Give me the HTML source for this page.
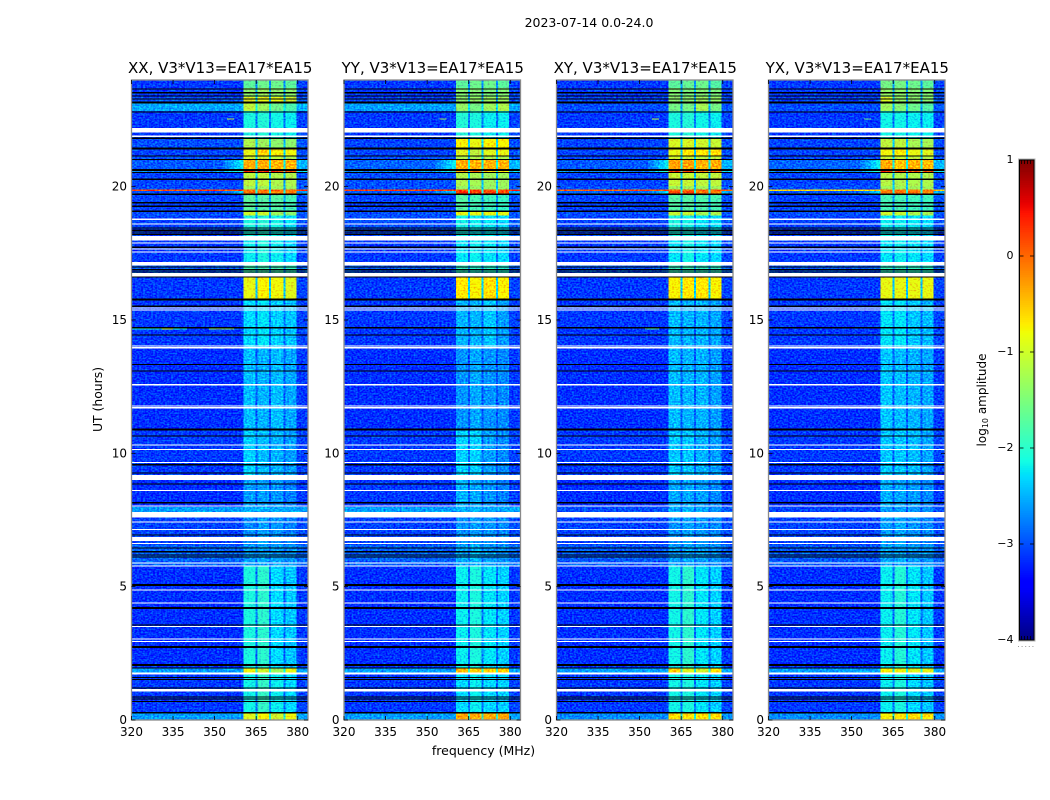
<!DOCTYPE html>
<html>
<head>
<meta charset="utf-8">
<title>2023-07-14 0.0-24.0</title>
<style>
html,body{margin:0;padding:0;background:#fff;}
svg{display:block;font-family:"DejaVu Sans","Liberation Sans",sans-serif;fill:#000;}
</style>
</head>
<body>
<svg id="figure" width="1050" height="800" viewBox="0 0 1050 800" xmlns="http://www.w3.org/2000/svg">
  <defs>
    <filter id="grain1" x="0" y="0" width="100%" height="100%" filterUnits="objectBoundingBox" color-interpolation-filters="sRGB">
      <feTurbulence type="fractalNoise" baseFrequency="0.5 0.62" numOctaves="1" seed="3" result="t"/>
      <feColorMatrix in="t" type="matrix" values="0 0 0 0 0.5  0 1 0 0 0  0 0 0 0 0.5  0 0 0 0 1" result="n"/>
      <feComposite in="SourceGraphic" in2="n" operator="arithmetic" k1="0" k2="1" k3="1.1" k4="-0.55"/>
    </filter>
    <filter id="grain2" x="0" y="0" width="100%" height="100%" filterUnits="objectBoundingBox" color-interpolation-filters="sRGB">
      <feTurbulence type="fractalNoise" baseFrequency="0.5 0.62" numOctaves="1" seed="11" result="t"/>
      <feColorMatrix in="t" type="matrix" values="0 0 0 0 0.5  0 1 0 0 0  0 0 0 0 0.5  0 0 0 0 1" result="n"/>
      <feComposite in="SourceGraphic" in2="n" operator="arithmetic" k1="0" k2="1" k3="1.1" k4="-0.55"/>
    </filter>
    <filter id="grain3" x="0" y="0" width="100%" height="100%" filterUnits="objectBoundingBox" color-interpolation-filters="sRGB">
      <feTurbulence type="fractalNoise" baseFrequency="0.5 0.62" numOctaves="1" seed="23" result="t"/>
      <feColorMatrix in="t" type="matrix" values="0 0 0 0 0.5  0 1 0 0 0  0 0 0 0 0.5  0 0 0 0 1" result="n"/>
      <feComposite in="SourceGraphic" in2="n" operator="arithmetic" k1="0" k2="1" k3="1.1" k4="-0.55"/>
    </filter>
    <filter id="grain4" x="0" y="0" width="100%" height="100%" filterUnits="objectBoundingBox" color-interpolation-filters="sRGB">
      <feTurbulence type="fractalNoise" baseFrequency="0.5 0.62" numOctaves="1" seed="37" result="t"/>
      <feColorMatrix in="t" type="matrix" values="0 0 0 0 0.5  0 1 0 0 0  0 0 0 0 0.5  0 0 0 0 1" result="n"/>
      <feComposite in="SourceGraphic" in2="n" operator="arithmetic" k1="0" k2="1" k3="1.1" k4="-0.55"/>
    </filter>
  </defs>

  <text x="589" y="27" font-size="12.5" text-anchor="middle">2023-07-14 0.0-24.0</text>

  <g id="panel-0" transform="translate(131.5,0)"></g>
  <g id="panel-1" transform="translate(344,0)"></g>
  <g id="panel-2" transform="translate(556.5,0)"></g>
  <g id="panel-3" transform="translate(768.5,0)"></g>

  <text font-size="12.4" text-anchor="middle" transform="translate(102,399.5) rotate(-90)">UT (hours)</text>
  <text x="483.5" y="755" font-size="12.5" text-anchor="middle">frequency (MHz)</text>

  <g id="colorbar"></g>
  <text font-size="12" text-anchor="middle" transform="translate(986,400) rotate(-90)">log<tspan font-size="8" dy="2">10</tspan><tspan dy="-2"> amplitude</tspan></text>
  <line x1="1018" y1="646.5" x2="1035" y2="646.5" stroke="#999" stroke-width="1" stroke-dasharray="1 2.6"/>
</svg>

<script>
const panelTitles = ["XX, V3*V13=EA17*EA15", "YY, V3*V13=EA17*EA15", "XY, V3*V13=EA17*EA15", "YX, V3*V13=EA17*EA15"];
const xTicks = [320, 335, 350, 365, 380];
const yTicks = [0, 5, 10, 15, 20];
const colorTicks = [-4, -3, -2, -1, 0, 1];
const colorTickLabels = ["\u22124", "\u22123", "\u22122", "\u22121", "0", "1"];

/* time-row boundaries in UT hours, from the top of the plot down */
const rowEdgesUT = [24, 23.70, 23.36, 23.13, 22.83, 22.20, 21.82, 21.45, 21.15, 21.00, 20.66, 20.55, 20.02, 19.90, 19.84, 19.72, 19.05, 18.92, 18.15, 17.17, 16.61, 15.79, 13.99, 10.87, 9.19, 7.99, 7.61, 6.56, 5.77, 1.95, 1.76, 0.26, 0];

/* frequency bands in MHz */
const bandStarts = [360.4, 365.4, 370.4, 375.5];
const bandEnds = [364.8, 369.7, 374.8, 379.6];
const freqMin = 320;
const freqMax = 383.7;

/* log10 amplitude per row: [background, band1, band2, band3, band4] */
const levelsXX = [
[-3.1,-1.7,-1.6,-1.6,-1.7],[-3.1,-1.4,-1.3,-1.4,-1.4],[-3.0,-0.9,-0.85,-0.85,-1.0],[-2.55,-1.1,-1.3,-1.6,-1.8],
[-3.1,-2.1,-2.05,-2.15,-2.2],[-3.1,-2.1,-2.05,-2.15,-2.2],[-3.0,-1.2,-1.3,-1.4,-1.4],[-3.05,-0.85,-0.55,-0.75,-0.8],
[-3.0,-1.0,-1.0,-1.1,-1.2],[-2.95,-0.35,-0.35,-0.4,-0.4],[-2.7,0.35,0.35,0.3,0.3],[-3.05,-1.1,-1.1,-1.2,-1.2],
[-3.0,-1.3,-1.3,-1.3,-1.3],[0.2,0.0,0.0,0.0,0.0],[-3.0,-0.1,-0.1,-0.1,-0.1],[-3.05,-1.7,-1.75,-1.75,-1.85],
[-3.0,-1.0,-1.0,-1.3,-1.4],[-3.05,-2.1,-2.05,-2.15,-2.25],[-3.1,-2.2,-2.1,-2.2,-2.3],[-2.95,-1.85,-1.85,-1.85,-1.95],
[-3.1,-0.85,-0.75,-0.8,-0.9],[-3.1,-2.3,-2.25,-2.35,-2.4],[-3.15,-2.45,-2.5,-2.45,-2.55],[-3.1,-2.35,-2.45,-2.5,-2.6],
[-3.15,-2.6,-2.6,-2.65,-2.75],[-2.6,-2.5,-2.5,-2.55,-2.55],[-3.05,-2.7,-2.6,-2.65,-2.75],[-2.9,-2.6,-2.55,-2.6,-2.65],
[-3.15,-2.1,-2.0,-2.3,-2.4],[-2.6,-0.8,-1.0,-1.3,-0.85],[-3.1,-2.15,-1.95,-2.2,-2.3],[-2.6,-0.9,-0.75,-1.0,-0.8]
];
const levelsYY = [
[-3.1,-1.7,-1.6,-1.6,-1.7],[-3.1,-1.45,-1.45,-1.5,-1.45],[-3.05,-1.4,-1.35,-1.3,-1.3],[-2.6,-1.35,-1.55,-1.3,-1.2],
[-3.1,-2.05,-2.1,-2.2,-2.2],[-3.1,-2.05,-2.1,-2.2,-2.2],[-3.05,-0.75,-0.85,-0.75,-0.75],[-3.05,-0.9,-1.1,-0.9,-0.85],
[-3.0,-1.2,-1.2,-1.2,-1.2],[-2.9,-0.35,-0.4,-0.4,-0.4],[-2.7,-0.2,-0.2,-0.6,-0.7],[-3.0,-1.2,-1.25,-1.3,-1.3],
[-3.0,-1.35,-1.35,-1.35,-1.35],[0.25,0.15,0.15,0.15,0.15],[-2.95,0.3,0.25,0.2,0.15],[-3.05,-1.75,-1.85,-1.9,-1.95],
[-3.0,-0.85,-0.85,-0.85,-0.85],[-3.0,-2.15,-2.2,-2.25,-2.3],[-3.1,-2.25,-2.2,-2.25,-2.3],[-2.95,-1.95,-2.0,-2.0,-2.05],
[-3.1,-0.7,-0.75,-0.65,-0.75],[-3.1,-2.5,-2.5,-2.4,-2.6],[-3.15,-2.65,-2.55,-2.65,-2.7],[-3.1,-2.35,-2.35,-2.6,-2.7],
[-3.1,-2.5,-2.55,-2.65,-2.75],[-2.6,-2.5,-2.5,-2.55,-2.55],[-3.05,-2.65,-2.6,-2.65,-2.7],[-2.9,-2.55,-2.5,-2.6,-2.65],
[-3.15,-2.2,-2.1,-2.25,-2.35],[-2.6,-0.45,-0.55,-0.6,-0.55],[-3.1,-2.3,-2.2,-2.3,-2.35],[-2.6,-0.3,-0.35,-0.35,-0.3]
];
const levelsXY = [
[-3.1,-1.7,-1.65,-1.6,-1.75],[-3.1,-1.45,-1.5,-1.45,-1.5],[-3.05,-1.4,-1.4,-1.3,-1.35],[-3.0,-1.55,-1.55,-1.25,-1.55],
[-3.1,-2.1,-2.05,-2.15,-2.2],[-3.1,-2.1,-2.05,-2.15,-2.2],[-3.05,-0.95,-0.95,-1.0,-1.05],[-3.05,-0.85,-0.7,-0.7,-0.65],
[-3.05,-1.0,-1.05,-1.1,-1.1],[-2.95,-0.3,-0.3,-0.4,-0.35],[-2.7,0.2,0.15,-0.05,0.1],[-3.05,-1.05,-1.05,-1.1,-1.1],
[-3.0,-1.3,-1.3,-1.3,-1.3],[0.1,0.05,0.05,0.05,0.05],[-2.9,0.15,0.15,-0.1,-0.1],[-3.05,-1.75,-1.75,-1.8,-1.85],
[-3.0,-1.05,-1.05,-1.25,-1.2],[-3.05,-2.1,-2.15,-2.25,-2.25],[-3.1,-2.25,-2.15,-2.25,-2.3],[-2.95,-1.9,-1.9,-1.95,-1.95],
[-3.1,-0.75,-0.7,-0.7,-0.75],[-3.1,-2.45,-2.5,-2.5,-2.55],[-3.15,-2.45,-2.5,-2.5,-2.6],[-3.1,-2.4,-2.4,-2.5,-2.6],
[-3.15,-2.55,-2.55,-2.6,-2.7],[-3.0,-2.55,-2.5,-2.55,-2.65],[-3.05,-2.65,-2.6,-2.65,-2.7],[-2.95,-2.6,-2.55,-2.6,-2.65],
[-3.15,-2.15,-2.0,-2.25,-2.35],[-2.6,-0.55,-0.9,-1.0,-0.7],[-3.1,-2.15,-2.1,-2.25,-2.35],[-2.7,-0.65,-0.65,-0.65,-0.65]
];
const levelsYX = [
[-3.1,-1.55,-1.55,-1.6,-1.7],[-3.1,-1.35,-1.4,-1.45,-1.45],[-3.05,-0.95,-1.35,-1.4,-1.4],[-3.0,-1.3,-1.45,-1.6,-1.75],
[-3.1,-2.15,-2.15,-2.2,-2.2],[-3.1,-2.15,-2.15,-2.2,-2.2],[-3.05,-1.1,-1.1,-1.25,-1.25],[-3.05,-0.8,-0.75,-0.85,-0.9],
[-3.05,-1.05,-1.05,-1.1,-1.15],[-2.9,-0.35,-0.5,-0.4,-0.45],[-2.7,0.2,0.2,0.1,0.1],[-3.05,-1.15,-1.2,-1.2,-1.2],
[-3.0,-1.3,-1.3,-1.3,-1.3],[-0.55,-0.1,-0.1,-0.1,-0.1],[-2.95,-0.1,-0.1,-0.1,-0.1],[-3.05,-1.85,-1.85,-1.9,-1.9],
[-3.0,-1.0,-1.05,-1.2,-1.25],[-3.05,-2.2,-2.2,-2.25,-2.3],[-3.1,-2.25,-2.2,-2.25,-2.3],[-2.95,-1.95,-1.95,-1.95,-2.0],
[-3.1,-0.85,-0.85,-0.85,-0.85],[-3.1,-2.25,-2.25,-2.4,-2.45],[-3.15,-2.4,-2.45,-2.5,-2.55],[-3.1,-2.4,-2.4,-2.45,-2.55],
[-3.15,-2.5,-2.55,-2.6,-2.7],[-3.05,-2.6,-2.6,-2.65,-2.7],[-3.05,-2.6,-2.55,-2.65,-2.7],[-2.95,-2.55,-2.55,-2.6,-2.65],
[-3.15,-2.2,-2.05,-2.25,-2.4],[-2.6,-0.75,-0.8,-0.9,-0.85],[-3.1,-2.2,-2.1,-2.3,-2.4],[-2.7,-0.75,-0.65,-0.6,-0.7]
];

/* level just beside the bands, for rows where the bright signal leaks outward */
const shoulderLevels = [null,null,null,null,null,null,null,null,null,-2.2,-2.0,null,null,null,-2.3,null,null,null,null,null,null,null,null,null,null,null,null,null,null,null,null,null];

/* isolated interference features: [startMHz, endMHz, UT, level] */
const spikesXX = [[320,340,14.66,-2.1],[331,335,14.66,-1.0],[348,357,14.66,-1.4],[354.5,357,22.54,-1.1]];
const spikesYY = [[354.5,357,22.54,-1.3]];
const spikesXY = [[352,357,14.66,-1.8],[354.5,357,22.54,-1.1]];
const spikesYX = [[354.5,357,22.54,-1.6]];

/* flagged time samples: black = zero amplitude, white = no data */
const blackUT = [23.66,23.52,23.40,23.29,23.15,22.80,21.82,21.43,21.15,21.02,20.62,20.53,20.28,19.72,19.40,19.27,19.08,18.45,18.37,18.30,18.22,17.73,16.99,16.89,16.80,16.61,15.77,15.52,14.71,14.44,13.33,13.09,10.89,10.65,9.57,9.26,8.85,8.15,6.94,6.45,6.31,6.19,6.11,5.06,4.20,3.56,2.74,2.06,1.95,1.59,1.52,1.20,0.87,0.78,0.69,0.27];
const blackHours = [0.05,0.05,0.05,0.05,0.08,0.05,0.05,0.06,0.05,0.05,0.08,0.05,0.06,0.05,0.05,0.05,0.06,0.05,0.05,0.05,0.05,0.06,0.05,0.05,0.05,0.04,0.06,0.05,0.05,0.05,0.05,0.05,0.08,0.05,0.05,0.05,0.05,0.05,0.05,0.05,0.05,0.05,0.05,0.08,0.08,0.05,0.08,0.08,0.04,0.04,0.04,0.05,0.04,0.04,0.04,0.05];
const whiteStart = [22.03,21.87,18.75,18.58,17.98,17.86,17.64,17.53,17.05,16.64,15.43,15.35,14.00,13.94,12.55,11.75,11.69,10.29,10.12,9.64,9.00,8.59,8.01,7.59,7.40,7.13,6.72,6.60,5.86,5.75,4.85,4.36,3.48,3.01,2.92,1.71,1.07];
const whiteEnd = [22.20,21.92,18.80,18.62,18.15,17.90,17.68,17.57,17.17,16.76,15.47,15.39,14.04,13.98,12.60,11.79,11.73,10.33,10.16,9.68,9.19,8.63,8.05,7.80,7.44,7.17,6.87,6.64,5.90,5.79,4.89,4.40,3.52,3.05,2.96,1.79,1.17];

const allLevels = [levelsXX, levelsYY, levelsXY, levelsYX];
const allSpikes = [spikesXX, spikesYY, spikesXY, spikesYX];

const SVGNS = "http://www.w3.org/2000/svg";
const plotWidth = 176.5, plotTop = 80, plotBottom = 720;
const xScale = mhz => (mhz - freqMin) / (freqMax - freqMin) * plotWidth;
const yScale = ut => plotBottom - ut / 24 * (plotBottom - plotTop);
const cbTop = 160, cbBottom = 640, cbLeft = 1019.5, cbRight = 1034;
const cbScale = v => cbBottom - (v + 4) / 5 * (cbBottom - cbTop);

function ramp(t, pts) {
  for (let i = 1; i < pts.length; i++) {
    if (t <= pts[i][0]) {
      const a = pts[i - 1], b = pts[i];
      return a[1] + (b[1] - a[1]) * (t - a[0]) / (b[0] - a[0]);
    }
  }
  return pts[pts.length - 1][1];
}
function jet(level) {
  const t = Math.max(0, Math.min(1, (level + 4) / 5));
  const r = ramp(t, [[0,0],[0.35,0],[0.66,1],[0.89,1],[1,0.5]]);
  const g = ramp(t, [[0,0],[0.125,0],[0.375,1],[0.64,1],[0.91,0],[1,0]]);
  const b = ramp(t, [[0,0.5],[0.11,1],[0.34,1],[0.65,0],[1,0]]);
  return "rgb(" + Math.round(r * 255) + "," + Math.round(g * 255) + "," + Math.round(b * 255) + ")";
}
function node(tag, parent, attrs) {
  const el = document.createElementNS(SVGNS, tag);
  for (const k in attrs) el.setAttribute(k, attrs[k]);
  parent.appendChild(el);
  return el;
}
function addCell(parent, f0, f1, utTop, utBottom, level) {
  const el = node("rect", parent, {
    x: xScale(f0), y: yScale(utTop),
    width: xScale(f1) - xScale(f0), height: yScale(utBottom) - yScale(utTop),
    fill: jet(level), "shape-rendering": "crispEdges"
  });
  
  
}

allLevels.forEach((levels, p) => {
  const panel = document.getElementById("panel-" + p);

  const cells = node("g", panel, { filter: "url(#grain" + (p + 1) + ")" });
  
  

  levels.forEach((row, r) => {
    const bg = row[0], top = rowEdgesUT[r], bot = rowEdgesUT[r + 1];
    const sh = shoulderLevels[r];
    if (sh === null) {
      addCell(cells, freqMin, bandStarts[0], top, bot, bg);
    } else {
      addCell(cells, freqMin, 353, top, bot, bg);
      addCell(cells, 353, 355, top, bot, bg + (sh - bg) * 0.25);
      addCell(cells, 355, 357, top, bot, bg + (sh - bg) * 0.5);
      addCell(cells, 357, 359, top, bot, bg + (sh - bg) * 0.75);
      addCell(cells, 359, bandStarts[0], top, bot, sh);
    }
    bandStarts.forEach((s, b) => {
      addCell(cells, s, bandEnds[b], top, bot, row[b + 1]);
      const gapEnd = b < 3 ? bandStarts[b + 1] : freqMax;
      const gapBase = bg > -1 ? -3 : bg;
      const gapLevel = b < 3 ? gapBase + (row[b + 1] - gapBase) * 0.3 : (sh === null ? (bg > -1 ? bg : bg + 0.05) : bg + (sh - bg) * 0.6);
      addCell(cells, bandEnds[b], gapEnd, top, bot, gapLevel);
    });
  });

  allSpikes[p].forEach(s => {
    addCell(cells, s[0], s[1], s[2] + 0.02, s[2] - 0.02, s[3]);
  });

  whiteStart.forEach((s, i) => {
    const el = node("rect", panel, { x: 0, y: yScale(whiteEnd[i]), width: plotWidth, height: yScale(s) - yScale(whiteEnd[i]), fill: "#fff", "shape-rendering": "crispEdges" });
    
    
  });
  blackUT.forEach((ut, i) => {
    const el = node("rect", panel, { x: 0, y: yScale(ut + blackHours[i] / 2), width: plotWidth, height: yScale(ut - blackHours[i] / 2) - yScale(ut + blackHours[i] / 2), fill: "#000", "shape-rendering": "crispEdges" });
    
    
  });

  const frame = node("rect", panel, { x: 0, y: plotTop, width: plotWidth, height: plotBottom - plotTop, fill: "none", stroke: "#8a8a8a", "stroke-width": 1.3 });
  
  

  const title = node("text", panel, { x: plotWidth / 2 + 0.5, y: 73, "font-size": 15, "text-anchor": "middle" });
  title.textContent = panelTitles[p];
  
  

  xTicks.forEach(v => {
    const x = xScale(v);
    const t1 = node("line", panel, { x1: x, x2: x, y1: plotBottom, y2: plotBottom - 4, stroke: "#000", "stroke-width": 0.8 });
    
    
    const t2 = node("line", panel, { x1: x, x2: x, y1: plotTop, y2: plotTop + 4, stroke: "#000", "stroke-width": 0.8 });
    
    
    const lab = node("text", panel, { x: x, y: 736, "font-size": 12, "text-anchor": "middle" });
    lab.textContent = String(v);
    
    
  });
  yTicks.forEach(v => {
    const y = yScale(v);
    const t1 = node("line", panel, { x1: 0, x2: 4, y1: y, y2: y, stroke: "#000", "stroke-width": 0.8 });
    
    
    const t2 = node("line", panel, { x1: plotWidth, x2: plotWidth - 4, y1: y, y2: y, stroke: "#000", "stroke-width": 0.8 });
    
    
    const lab = node("text", panel, { x: -4.5, y: y + 4, "font-size": 12, "text-anchor": "end" });
    lab.textContent = String(v);
    
    
  });
});

/* colorbar */
const cb = document.getElementById("colorbar");
for (let i = 0; i < 256; i++) {
  const v0 = -4 + 5 * i / 256, v1 = -4 + 5 * (i + 1) / 256;
  const s = node("rect", cb, { x: cbLeft, y: cbScale(v1), width: cbRight - cbLeft, height: cbScale(v0) - cbScale(v1) + 0.5, fill: jet((v0 + v1) / 2), "shape-rendering": "crispEdges" });
  
  
}
const cbFrame = node("rect", cb, { x: cbLeft, y: cbTop, width: cbRight - cbLeft, height: cbBottom - cbTop, fill: "none", stroke: "#000", "stroke-width": 1 });


const cbOuter = node("rect", cb, { x: cbLeft - 1, y: cbTop - 1, width: cbRight - cbLeft + 2, height: cbBottom - cbTop + 2, fill: "none", stroke: "#b5b5b5", "stroke-width": 1 });


colorTicks.forEach((v, i) => {
  const y = cbScale(v);
  const t1 = node("line", cb, { x1: cbLeft, x2: cbLeft + 4, y1: y, y2: y, stroke: "#000", "stroke-width": 0.8 });
  
  
  const t2 = node("line", cb, { x1: cbRight, x2: cbRight - 4, y1: y, y2: y, stroke: "#000", "stroke-width": 0.8 });
  
  
  const lab = node("text", cb, { x: 1013.5, y: y + 3, "font-size": 11, "text-anchor": "end" });
  lab.textContent = colorTickLabels[i];
  
  
});
[2, 5, 8, 11].forEach(dx => {
  const m1 = node("line", cb, { x1: cbLeft + dx, x2: cbLeft + dx, y1: cbTop, y2: cbTop + 4, stroke: "#000", "stroke-width": 0.8 });
  
  
  const m2 = node("line", cb, { x1: cbLeft + dx, x2: cbLeft + dx, y1: cbBottom, y2: cbBottom - 4, stroke: "#000", "stroke-width": 0.8 });
  
  
});
</script>
</body>
</html>
